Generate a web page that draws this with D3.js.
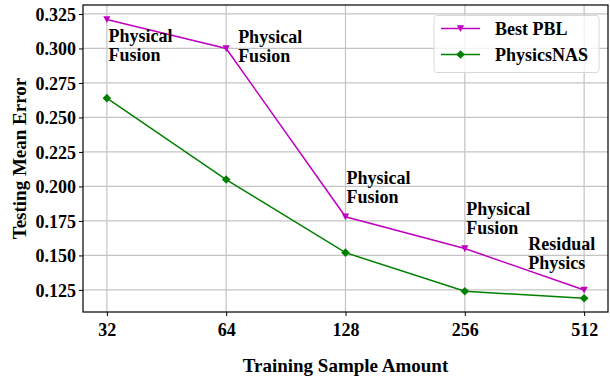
<!DOCTYPE html>
<html>
<head>
<meta charset="utf-8">
<script src="https://cdn.jsdelivr.net/npm/d3@7"></script>
<style>
  html, body { margin: 0; padding: 0; background: #fff; }
  svg { display: block; }
  text { font-family: "Liberation Serif", "Times New Roman", serif; font-weight: bold; fill: #000; }
</style>
</head>
<body>
<svg id="chart" width="610" height="379"></svg>
<script>
// Training sample amounts (log2-spaced categories)
const sampleAmounts = [32, 64, 128, 256, 512];

// Testing mean error per method
const bestPBL    = [0.321, 0.300, 0.178, 0.155, 0.125];
const physicsNAS = [0.264, 0.205, 0.152, 0.124, 0.119];

// Y tick values
const yTicks = [0.125, 0.150, 0.175, 0.200, 0.225, 0.250, 0.275, 0.300, 0.325];

// Best PBL model type noted next to each point (anchor in data units)
const noteLines = [
  ["Physical", "Fusion"],
  ["Physical", "Fusion"],
  ["Physical", "Fusion"],
  ["Physical", "Fusion"],
  ["Residual", "Physics"]
];
const noteX = [32.3, 68.6, 128.7, 258, 370];
const noteY = [0.305, 0.304, 0.202, 0.179, 0.154];

const seriesNames = ["Best PBL", "PhysicsNAS"];

const svg = d3.select("#chart");
const plot = { left: 83, right: 608, top: 5, bottom: 312 };

const x = d3.scaleLog().base(2)
  .domain([Math.pow(2, 4.8), Math.pow(2, 9.2)])
  .range([plot.left, plot.right]);
const y = d3.scaleLinear()
  .domain([0.109, 0.3315])
  .range([plot.bottom, plot.top]);

// Grid
const grid = svg.append("g");
grid.selectAll("line.gy").data(yTicks).enter().append("line")
  .attr("x1", plot.left).attr("x2", plot.right)
  .attr("y1", d => y(d)).attr("y2", d => y(d))
  .attr("stroke", "#c4c4c4").attr("stroke-width", 1.2);
grid.selectAll("line.gx").data(sampleAmounts).enter().append("line")
  .attr("x1", d => x(d)).attr("x2", d => x(d))
  .attr("y1", plot.top).attr("y2", plot.bottom)
  .attr("stroke", "#c4c4c4").attr("stroke-width", 1.2);

// Axes
const xAxis = d3.axisBottom(x).tickValues(sampleAmounts).tickFormat(d3.format("d"))
  .tickSizeOuter(0).tickSizeInner(4).tickPadding(3);
const yAxis = d3.axisLeft(y).tickValues(yTicks).tickFormat(d3.format(".3f"))
  .tickSizeOuter(0).tickSizeInner(4).tickPadding(3);

const gx = svg.append("g").attr("transform", `translate(0,${plot.bottom})`).call(xAxis);
const gy = svg.append("g").attr("transform", `translate(${plot.left},0)`).call(yAxis);
[gx, gy].forEach(g => {
  g.select(".domain").remove();
  g.selectAll(".tick line").attr("stroke", "#000").attr("stroke-width", 1);
  g.selectAll(".tick text")
    .style("font-family", '"Liberation Serif", "Times New Roman", serif')
    .style("font-weight", "bold").style("font-size", "18px").attr("fill", "#000");
});
gx.selectAll(".tick text").attr("dy", "0.95em");
gy.selectAll(".tick text").attr("dy", "0.34em");

// Frame
svg.append("rect")
  .attr("x", plot.left).attr("y", plot.top)
  .attr("width", plot.right - plot.left).attr("height", plot.bottom - plot.top)
  .attr("fill", "none").attr("stroke", "#000").attr("stroke-width", 1.2);

// Axis titles
svg.append("text")
  .attr("x", (plot.left + plot.right) / 2).attr("y", 372)
  .attr("text-anchor", "middle").style("font-size", "19px")
  .text("Training Sample Amount");
svg.append("text")
  .attr("transform", `translate(26,${(plot.top + plot.bottom) / 2}) rotate(-90)`)
  .attr("text-anchor", "middle").style("font-size", "19px")
  .text("Testing Mean Error");

// Series
const line = d3.line().x(d => x(d[0])).y(d => y(d[1]));
const triDown = "M-3.6,-3.2L3.6,-3.2L0,3.6Z";
const diamond = "M0,-4.3L4.3,0L0,4.3L-4.3,0Z";

const series = [
  { name: seriesNames[0], values: bestPBL, color: "#bf00bf", marker: triDown },
  { name: seriesNames[1], values: physicsNAS, color: "#008000", marker: diamond }
];

series.slice().reverse().forEach(s => {
  const pts = sampleAmounts.map((a, i) => [a, s.values[i]]);
  svg.append("path").datum(pts)
    .attr("d", line).attr("fill", "none")
    .attr("stroke", s.color).attr("stroke-width", 1.5);
  svg.selectAll(null).data(pts).enter().append("path")
    .attr("d", s.marker)
    .attr("transform", d => `translate(${x(d[0])},${y(d[1])})`)
    .attr("fill", s.color);
});

// Notes
noteLines.forEach((lines, i) => {
  const t = svg.append("text")
    .attr("x", x(noteX[i])).attr("y", y(noteY[i]))
    .style("font-size", "18px");
  lines.forEach((l, j) => {
    t.append("tspan").attr("x", x(noteX[i])).attr("dy", j === 0 ? 0 : 19).text(l);
  });
});

// Legend
const lg = svg.append("g");
lg.append("rect")
  .attr("x", 434).attr("y", 15.5).attr("width", 165).attr("height", 57)
  .attr("rx", 3).attr("fill", "#fff").attr("fill-opacity", 0.8)
  .attr("stroke", "#d8d8d8").attr("stroke-width", 1);
series.forEach((s, i) => {
  const cy = 28.5 + i * 26;
  lg.append("line").attr("x1", 441).attr("x2", 480).attr("y1", cy).attr("y2", cy)
    .attr("stroke", s.color).attr("stroke-width", 1.5);
  lg.append("path").attr("d", s.marker)
    .attr("transform", `translate(460.5,${cy})`).attr("fill", s.color);
  lg.append("text").attr("x", 495).attr("y", cy + 6.3)
    .style("font-size", "18px").text(s.name);
});
</script>
</body>
</html>
